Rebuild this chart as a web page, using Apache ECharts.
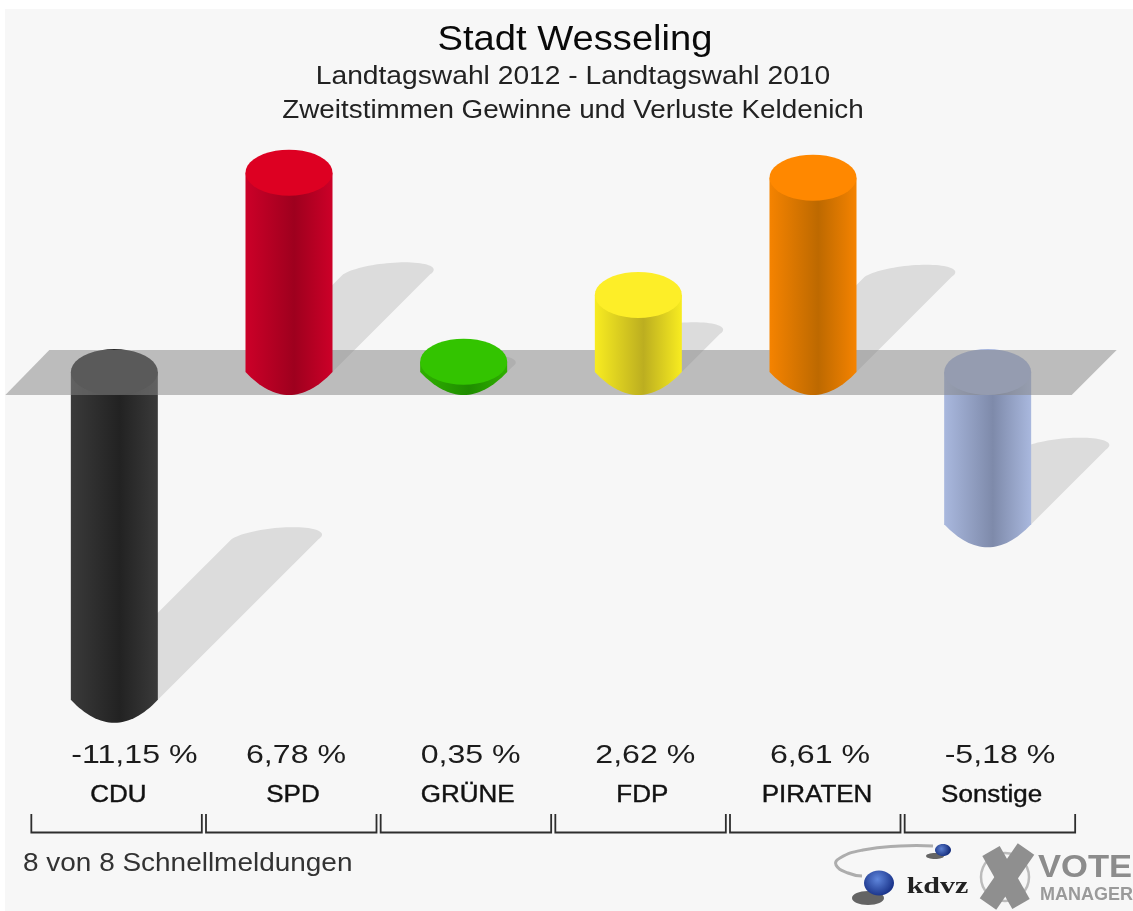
<!DOCTYPE html>
<html>
<head>
<meta charset="utf-8">
<style>html,body{margin:0;padding:0;background:#fff}#c{width:1133px;height:911px}</style>
<script src="https://cdn.jsdelivr.net/npm/echarts@6/dist/echarts.min.js"></script>
</head>
<body>
<div id="c"></div>
<script>
const categories = ['CDU','SPD','GRÜNE','FDP','PIRATEN','Sonstige'];
const values = [-11.15,6.78,0.35,2.62,6.61,-5.18];
const faceColors = ['#2a2a2a','#dd0022','#33c400','#fdee28','#ff8800','#a6b5dd'];
const edgeColors = ['#3a3a3a','#cc0028','#2fb000','#f8ec20','#f58300','#a9b8de'];
const darkColors = ['#222222','#9e001e','#1f8c00','#bcae20','#bd6900','#7e8aaa'];
const titleLines = ['Stadt Wesseling','Landtagswahl 2012 - Landtagswahl 2010','Zweitstimmen Gewinne und Verluste Keldenich'];
const footerText = '8 von 8 Schnellmeldungen';

const FONT = '"Liberation Sans", Arial, sans-serif';
const RX = 43.5, RY = 23;
const seriesData = values.map((v,i)=>[i,v]);

function arc(cx,cy,rx,ry,a0,a1,shear){
  const pts=[];
  const n=40;
  for(let k=0;k<=n;k++){
    const t=(a0+(a1-a0)*k/n)*Math.PI/180;
    pts.push([cx+rx*Math.cos(t)+(shear||0)*Math.sin(t), cy-ry*Math.sin(t)]);
  }
  return pts;
}
// lower end of a column: a shallow lens from the right side to the left side
function lens(cx,cy,rx,ry){
  const pts=[];
  const n=32;
  for(let k=0;k<=n;k++){
    const u=1-2*k/n;
    pts.push([cx+rx*u, cy+ry*(1-u*u)]);
  }
  return pts;
}
function bodyFill(i){
  return new echarts.graphic.LinearGradient(0,0,1,0,[
    {offset:0,color:edgeColors[i]},
    {offset:0.56,color:darkColors[i]},
    {offset:1,color:edgeColors[i]}
  ]);
}
function cylinder(i,params,api){
  const v=api.value(1);
  const cx=api.coord([i,0])[0];
  const y0=api.coord([i,0])[1];
  const y1=api.coord([i,v])[1];
  const top=Math.min(y0,y1), bot=Math.max(y0,y1);
  const body=[[cx-RX,top],[cx+RX,top]].concat(lens(cx,bot,RX,RY));
  return {type:'group',silent:true,children:[
    {type:'polygon',shape:{points:body},style:{fill:bodyFill(i)}},
    {type:'polygon',shape:{points:arc(cx,top,RX,RY,0,360)},style:{fill:faceColors[i]}}
  ]};
}
function renderShadow(params,api){
  const i=params.dataIndex, v=api.value(1);
  const cx=api.coord([i,0])[0];
  const y0=api.coord([i,0])[1], y1=api.coord([i,v])[1];
  const h=Math.abs(y0-y1)*0.49;
  const base=Math.max(y0,y1);
  const pts=[[cx-RX,base],[cx+RX,base]].concat(arc(cx+h,base-h,RX,12,0,180,18));
  return {type:'polygon',silent:true,shape:{points:pts},style:{fill:'#dcdcdc'}};
}
function renderNeg(params,api){
  if(api.value(1)>=0) return null;
  return cylinder(params.dataIndex,params,api);
}
function renderPos(params,api){
  if(api.value(1)<0) return null;
  return cylinder(params.dataIndex,params,api);
}
function renderPlane(params,api){
  const y=api.coord([0,0])[1];
  const last=api.coord([categories.length-1,0])[0], first=api.coord([0,0])[0];
  return {type:'polygon',silent:true,shape:{points:[
    [first-65,y-22],[last+129,y-22],[last+84,y+23],[first-109,y+23]
  ]},style:{fill:'rgba(135,135,135,0.52)'}};
}
function renderLabels(params,api){
  const i=params.dataIndex, v=api.value(1);
  const cx=api.coord([i,0])[0];
  const txt=v.toFixed(2).replace('.',',')+' %';
  const bl=cx-83, br=cx+87.5;
  return {type:'group',silent:true,children:[
    {type:'text',x:cx-43,y:756,scaleX:1.235,style:{text:txt,font:'26px '+FONT,fill:'#1c1c1c',textAlign:'left',textVerticalAlign:'middle'}},
    {type:'text',x:cx+4,y:796,scaleX:1.13,style:{text:categories[i],font:'23px '+FONT,fill:'#111',stroke:'#111',lineWidth:0.4,textAlign:'center',textVerticalAlign:'middle'}},
    {type:'polyline',shape:{points:[[bl,814],[bl,832.5],[br,832.5],[br,814]]},style:{fill:'none',stroke:'#2e2e2e',lineWidth:1.8}}
  ]};
}
function t(text,x,y,size,sx,fill,align,weight,family){
  return {type:'text',x:x,y:y,scaleX:sx,silent:true,z:20,style:{text:text,font:(weight||'normal')+' '+size+'px '+(family||FONT),fill:fill,textAlign:align||'center',textVerticalAlign:'middle'}};
}
const chart=echarts.init(document.getElementById('c'),null,{renderer:'canvas'});
chart.setOption({
  animation:false,
  backgroundColor:'#ffffff',
  grid:{left:27,width:1048,top:136.8,height:588},
  xAxis:{type:'category',data:categories,show:false},
  yAxis:{type:'value',min:-12,max:8,show:false},
  tooltip:{show:false},
  graphic:[
    {type:'rect',z:-10,silent:true,shape:{x:5,y:9,width:1128,height:902},style:{fill:'#f7f7f7'}},
    t(titleLines[0],575,40,35,1.09,'#0a0a0a'),
    t(titleLines[1],573,77,26,1.085,'#222'),
    t(titleLines[2],573,111,26,1.07,'#222'),
    t(footerText,23,864,26,1.075,'#333','left'),
    // logo
    {type:'polyline',z:20,silent:true,shape:{smooth:0.5,points:[[933,846],[900,846],[863,850],[840,858],[836,865],[848,873],[862,876]]},style:{fill:'none',stroke:'#adadad',lineWidth:3}},
    {type:'ellipse',z:20,silent:true,shape:{cx:935,cy:856,rx:9,ry:3},style:{fill:'#333',opacity:0.75}},
    {type:'ellipse',z:20,silent:true,shape:{cx:943,cy:850,rx:8,ry:6},style:{fill:new echarts.graphic.RadialGradient(0.4,0.4,0.7,[{offset:0,color:'#5c7fd0'},{offset:1,color:'#17307f'}])}},
    {type:'ellipse',z:20,silent:true,shape:{cx:868,cy:898,rx:16,ry:7},style:{fill:'#333',opacity:0.75}},
    {type:'ellipse',z:20,silent:true,shape:{cx:879,cy:883,rx:15,ry:12.5},style:{fill:new echarts.graphic.RadialGradient(0.45,0.35,0.75,[{offset:0,color:'#5f86dc'},{offset:1,color:'#122a80'}])}},
    t('kdvz',937.5,887,24,1.25,'#222','center','bold','"Liberation Serif", serif'),
    {type:'circle',z:20,silent:true,shape:{cx:1005,cy:877,r:24},style:{fill:'none',stroke:'#bbb',lineWidth:2.5}},
    {type:'line',z:20,silent:true,shape:{x1:991,y1:851,x2:1021,y2:904},style:{stroke:'#8f8f8f',lineWidth:20}},
    {type:'line',z:20,silent:true,shape:{x1:1026,y1:849,x2:988,y2:904},style:{stroke:'#8f8f8f',lineWidth:20}},
    t('VOTE',1038,868,32,1.08,'#8c8c8c','left','bold'),
    t('MANAGER',1040,895,18,1,'#9a9a9a','left','bold')
  ],
  series:[
    {type:'custom',z:1,data:seriesData,renderItem:renderShadow},
    {type:'custom',z:2,data:seriesData,renderItem:renderNeg},
    {type:'custom',z:3,data:[[0,0]],renderItem:renderPlane},
    {type:'custom',z:4,data:seriesData,renderItem:renderPos},
    {type:'custom',z:5,data:seriesData,renderItem:renderLabels}
  ]
});
</script>
</body>
</html>
